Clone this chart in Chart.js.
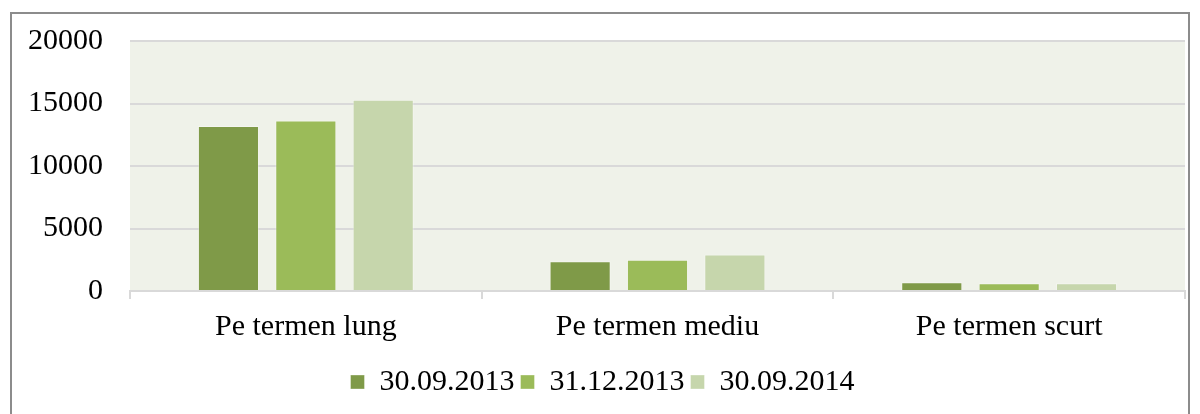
<!DOCTYPE html>
<html>
<head>
<meta charset="utf-8">
<script src="https://cdn.jsdelivr.net/npm/chart.js@4/dist/chart.umd.min.js"></script>
<style>
  html, body { margin: 0; padding: 0; background: #fff; }
  #wrap { position: relative; width: 1200px; height: 414px; }
  #frame {
    position: absolute; left: 10px; top: 12px; width: 1176px; height: 420px;
    border: 2px solid #8c8c8c; pointer-events: none;
  }
</style>
</head>
<body>
<div id="wrap">
  <canvas id="myChart" width="1200" height="414"></canvas>
  <div id="frame"></div>
</div>
<script>
// chart data
var categories = ['Pe termen lung', 'Pe termen mediu', 'Pe termen scurt'];
var seriesNames = ['30.09.2013', '31.12.2013', '30.09.2014'];
var values2013Sep = [13200, 2380, 700];
var values2013Dec = [13650, 2500, 620];
var values2014Sep = [15300, 2930, 630];
var seriesColors = ['#7f9a48', '#9bbb59', '#c6d6ac'];

var serif = "'Liberation Serif', 'DejaVu Serif', serif";

// fill the plot area background
const plotBg = {
    id: 'plotBg',
    beforeDraw(chart) {
        const a = chart.chartArea;
        const ctx = chart.ctx;
        ctx.save();
        ctx.fillStyle = '#eff2e9';
        ctx.fillRect(a.left, a.top, a.right - a.left, a.bottom - a.top);
        ctx.restore();
    }
};

const allValues = [values2013Sep, values2013Dec, values2014Sep];

new Chart(document.getElementById('myChart'), {
    type: 'bar',
    data: {
        labels: categories,
        datasets: seriesNames.map((name, i) => ({
            label: name,
            data: allValues[i],
            backgroundColor: seriesColors[i],
            borderColor: 'rgba(255,255,255,0.35)',
            borderWidth: 1,
            categoryPercentage: 0.66,
            barPercentage: 0.79
        }))
    },
    options: {
        responsive: false,
        animation: false,
        // left padding nudges the centred legend to the right
        layout: { padding: { top: 41, right: 15, bottom: 7, left: 20 } },
        plugins: {
            tooltip: { enabled: false },
            legend: {
                position: 'bottom',
                labels: {
                    boxWidth: 14,
                    boxHeight: 14,
                    padding: 6,
                    color: '#000',
                    font: { family: serif, size: 30 }
                }
            }
        },
        scales: {
            x: {
                afterFit(scale) { scale.height = 70; },
                grid: {
                    display: true,
                    drawOnChartArea: false,
                    drawTicks: true,
                    tickLength: 8,
                    color: '#d9d9d9',
                    lineWidth: 2
                },
                border: { display: true, color: '#d9d9d9', width: 2 },
                ticks: {
                    color: '#000',
                    padding: 10,
                    font: { family: serif, size: 30 }
                }
            },
            y: {
                min: 0,
                max: 20000,
                afterFit(scale) {
                    scale.width = 110;
                    // tick padding would otherwise push the plot top down
                    scale.paddingTop = 0;
                    scale.paddingBottom = 0;
                },
                grid: { color: '#d9d9d9', lineWidth: 2, drawTicks: false },
                border: { display: false },
                ticks: {
                    stepSize: 5000,
                    padding: 27,
                    color: '#000',
                    font: { family: serif, size: 30 },
                    callback: (v) => String(v)
                }
            }
        }
    },
    plugins: [plotBg]
});
</script>
</body>
</html>
